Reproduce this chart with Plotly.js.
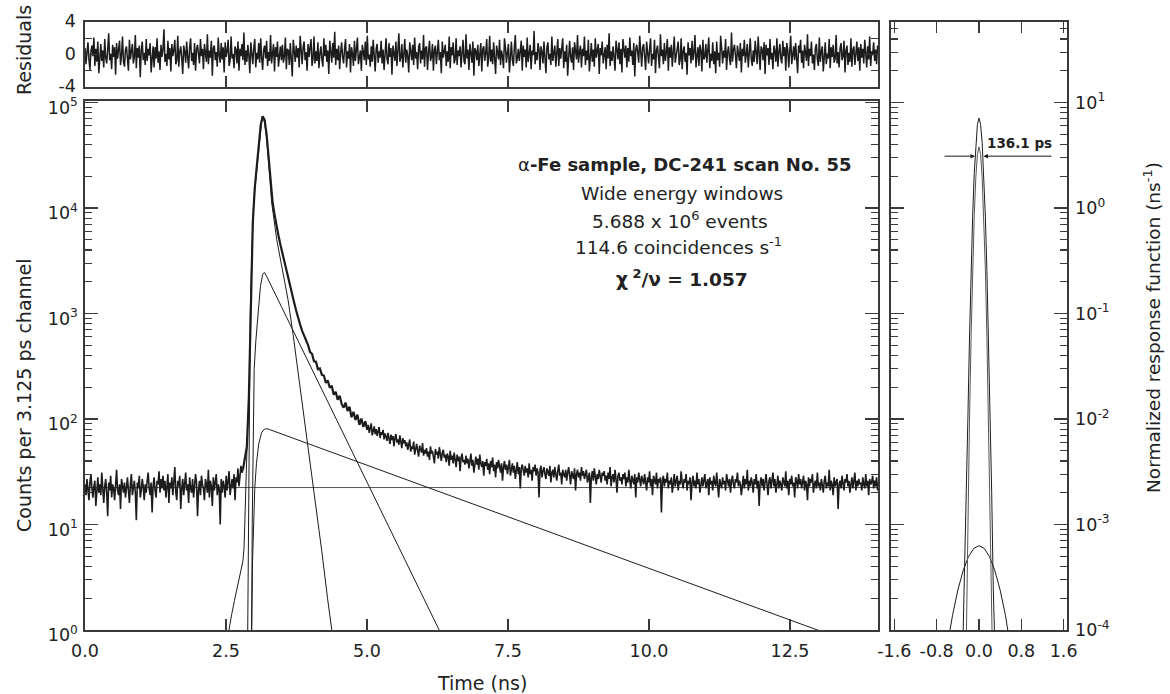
<!DOCTYPE html>
<html>
<head>
<meta charset="utf-8">
<script src="https://cdn.plot.ly/plotly-3.0.1.min.js"></script>
<style>
html, body { margin: 0; padding: 0; background: #ffffff; }
#chart { width: 1170px; height: 694px; }
</style>
</head>
<body>
<div id="chart"></div>
<script>
// ---------------- DATA ----------------
// Measured spectrum, counts per channel, in three stretches of channels
// 1) flat background before the peak: start 0 ns, channel step 0.0175 ns
const earlyStart = 0, earlyStep = 0.0175;
const countsEarly = [
24,19,27,21,17,25,30,22,18,23,26,15,21,28,20,24,19,31,22,16,
23,27,20,12,25,21,29,18,24,22,17,26,33,21,19,24,14,27,23,20,
25,18,22,28,21,16,24,30,19,23,26,20,11,25,22,29,18,21,27,23,
17,24,20,26,31,22,19,25,13,23,28,21,18,26,24,32,20,27,22,29,
21,26,18,23,30,16,25,22,28,19,24,35,20,17,26,23,29,14,22,27,
19,25,31,21,24,16,28,22,20,27,18,23,30,25,12,21,26,19,29,24,
22,17,27,24,20,33,18,26,23,15,28,21,25,30,19,24,22,10,27,20,
26,23,18,29,21,25,32,19,24,27,22,30,17,28,25,34,23,29,36,31,
33
];
// 2) rising edge, peak and fast decay: start 2.8 ns, channel step 0.035 ns
const peakStart = 2.8, peakStep = 0.035;
const countsPeak = [
33,45,55,160,1500,7200,15500,25000,40500,61000,74000,68500,49500,29500,16400,11500,8700,6750,5480,4480,
3710,3050,2560,2230,1800,1510,1255,1060,895,785,685,615,550,502,431,415,352,349,296,301,
262,258,221,232,198,207,170,181,152,166,139,128,143,119,131,104,117,98,110,88,
101,84,95,79
];
// 3) slow tail: start 5.005 ns, channel step 0.0175 ns
const tailStart = 5.005, tailStep = 0.0175;
const countsTail = [
79,88,74,83,91,70,78,85,72,80,69,77,84,66,75,71,79,64,73,68,
62,74,67,58,71,63,69,55,66,72,60,64,57,70,61,53,66,59,63,55,
60,51,57,64,49,55,52,61,46,54,58,50,44,56,52,48,59,45,51,47,
53,44,49,41,55,47,50,43,38,52,46,49,42,54,45,40,48,51,43,46,
39,47,44,36,50,41,45,38,48,42,35,46,40,44,32,43,47,39,41,37,
45,38,42,34,40,47,36,41,31,39,44,37,42,33,46,38,35,40,29,39,
36,42,33,38,30,40,35,43,32,37,28,39,34,41,36,31,38,26,35,40,
33,37,30,35,41,29,34,38,31,36,27,33,39,30,35,22,34,37,32,29,
36,31,34,28,38,30,33,26,35,32,37,29,34,31,18,33,36,28,32,35,
30,27,34,32,29,36,25,31,33,28,35,30,26,32,37,29,31,24,33,30,
28,33,26,31,35,29,24,32,30,27,34,21,30,33,28,31,26,35,29,32,
27,30,33,25,29,31,16,28,32,26,34,29,24,30,27,33,28,25,31,29,
32,26,29,24,31,27,35,23,28,30,25,33,27,20,29,31,26,28,24,30,
27,31,23,28,25,33,26,22,29,27,24,30,18,28,25,31,26,23,29,27,
24,30,26,21,28,25,32,23,27,19,29,26,24,31,22,27,25,28,13,26,
29,23,27,25,31,22,26,24,28,20,27,30,23,25,29,21,26,24,32,25,
22,27,25,30,21,26,24,28,17,25,29,23,26,22,31,24,27,20,25,28,
23,26,30,22,25,27,19,28,24,26,21,29,25,23,31,24,18,27,25,22,
28,24,26,21,30,25,23,27,20,26,29,24,22,27,25,31,23,26,24,19,
25,29,22,27,24,33,21,26,23,28,25,20,27,24,30,22,26,15,25,28,
23,27,21,25,30,24,19,26,28,22,25,31,23,27,20,24,29,22,26,24,
21,28,25,23,32,22,26,19,27,24,29,23,25,18,28,26,22,30,24,27,
22,25,29,21,26,24,17,28,23,27,25,30,20,24,26,22,31,23,25,21,
27,24,20,26,29,22,25,23,33,21,26,24,19,28,23,25,27,14,24,26,
22,29,24,21,27,25,30,23,26,20,24,28,22,25,31,21,26,23,27,24,
25,21,28,24,22,30,23,26,19,27,24,25,29,22,26,23,28,21,25
];

// Weighted residuals of the fit: start 0 ns, channel step 0.0175 ns
const residStart = 0, residStep = 0.0175;
const residuals = [
0.8,-1.2,0.3,1.5,-0.6,-1.9,0.4,1.1,-0.2,2.1,-1.4,0.7,-0.9,1.6,-2.3,0.2,1.3,-0.8,0.5,-1.6,
1.9,-0.4,-1.1,0.6,2.6,-0.7,0.1,-1.8,1.2,-0.3,0.9,-2.5,1.4,-0.5,0.3,1.7,-1.3,-0.1,2.2,-0.9,
-1.5,0.6,1.0,-0.2,-2.0,1.8,-0.6,0.4,1.3,-1.1,-0.3,2.4,-1.7,0.8,-0.4,1.1,-2.8,0.5,1.6,-0.7,
0.2,-1.3,1.9,-0.8,0.7,-0.1,1.4,-2.2,0.3,1.0,-1.6,0.9,-0.5,2.0,-1.0,0.4,-1.9,1.2,-0.3,0.6,
3.1,-0.9,0.1,-1.4,1.7,-0.6,0.8,-2.1,1.3,-0.2,0.5,1.8,-1.2,-0.7,2.3,-1.5,0.3,1.0,-0.4,-2.4,
1.1,0.4,-1.0,1.6,-0.3,-1.7,0.9,2.0,-0.8,0.2,-1.3,1.4,-2.0,0.6,1.2,-0.5,-1.1,1.9,-0.2,0.7,
-1.8,1.3,0.0,-0.9,2.5,-1.2,0.5,-0.4,1.7,-2.6,0.8,1.1,-0.7,0.3,-1.5,2.1,-0.1,-1.0,1.4,-0.6,
0.9,-2.2,1.5,-0.3,0.4,1.8,-1.4,-0.8,2.2,-0.5,0.1,-1.7,1.0,0.6,-1.1,1.6,-2.0,0.7,-0.2,1.3,
-0.7,2.7,-1.3,0.5,-0.9,1.2,-0.1,-2.3,1.5,0.3,-1.2,0.8,1.9,-1.6,0.2,-0.6,1.4,-1.0,2.0,-0.4,
-1.9,0.6,1.1,-0.5,1.7,-1.4,0.3,-0.8,2.4,-1.1,0.0,1.3,-2.1,0.9,-0.3,1.6,-1.5,0.4,1.0,-0.7,
1.2,-1.0,-0.2,2.1,-1.8,0.7,0.5,-1.3,1.4,-0.6,-2.7,1.8,0.2,-0.9,1.1,-0.4,0.8,-1.6,2.3,-0.1,
-1.2,0.9,1.6,-0.7,0.3,-2.0,1.3,-0.3,0.6,1.9,-1.4,-0.5,2.2,-1.1,0.4,-0.8,1.5,-1.7,0.1,1.0,
-0.6,-1.5,2.0,-0.2,1.2,-0.9,0.5,-2.4,1.7,0.3,-1.0,1.4,-0.4,2.8,-1.3,0.7,-0.7,1.1,-1.8,0.2,
1.5,-0.3,-1.1,0.8,1.9,-1.6,0.4,-0.5,1.3,-2.2,0.9,0.1,-1.4,1.7,-0.8,0.6,2.1,-1.2,-0.2,0.5,
-2.0,1.2,0.3,-0.7,1.6,-1.3,2.3,-0.6,0.0,-1.5,1.0,-0.9,1.8,-0.2,-2.1,0.7,1.3,-1.0,0.4,-0.4,
1.7,-1.1,0.6,-1.9,0.9,2.0,-0.5,-1.2,1.4,-0.3,0.8,-2.5,1.1,0.2,-0.8,1.6,-1.4,0.5,2.6,-0.9,
-0.4,1.3,-1.6,0.1,1.9,-1.0,0.6,-0.2,-2.2,1.5,0.4,-0.7,1.2,-1.3,2.1,-0.5,0.3,-1.8,0.9,1.4,
-1.1,0.5,-0.6,2.4,-1.5,0.8,1.0,-1.9,0.2,1.7,-0.8,-0.3,1.3,-2.0,0.6,1.1,-1.2,0.0,1.8,-0.7,
0.3,-2.3,1.6,-0.4,0.7,1.2,-1.4,0.4,-0.9,2.2,-1.7,0.9,-0.1,1.5,-1.1,-0.6,2.0,-1.3,0.5,-0.2,
1.0,-1.6,0.2,1.8,-0.8,-1.2,2.5,-0.5,0.6,-1.9,1.3,0.1,-1.0,1.6,-2.6,0.8,0.4,-0.7,1.2,-1.4,
-0.3,1.4,-2.1,0.7,1.0,-0.8,0.2,1.9,-1.5,-0.4,2.3,-0.9,0.6,-1.2,1.5,-0.1,-2.4,1.1,0.4,-0.6,
1.8,-1.3,0.5,-0.2,-1.7,2.0,0.8,-1.0,0.3,1.3,-2.2,0.0,1.6,-0.7,-1.4,0.9,2.4,-1.1,-0.5,0.7,
-0.8,0.4,1.7,-2.0,1.1,-0.3,0.6,-1.6,2.1,-0.9,0.2,1.2,-1.8,0.5,-0.1,2.9,-1.2,0.3,-0.7,1.4,
0.6,-1.9,1.0,0.3,-1.1,1.6,-0.4,-2.3,0.9,1.5,-0.6,0.1,-1.3,2.2,-0.8,0.7,1.1,-1.5,-0.2,1.9,
-1.4,0.8,-0.5,1.3,2.0,-1.7,0.4,-0.9,1.2,-2.6,0.6,1.7,-0.3,-1.0,0.9,-1.9,1.5,0.2,-0.6,2.4,
-1.0,0.3,1.1,-1.6,0.7,-0.2,2.2,-1.3,0.5,-0.7,1.8,-2.1,0.0,1.4,-0.9,0.6,-1.5,2.0,-0.4,0.9,
1.3,-2.4,0.8,-0.1,1.6,-1.1,0.2,0.9,-1.8,1.2,-0.5,2.6,-1.4,0.4,-0.8,1.0,-0.3,-2.0,1.7,0.1,
-0.6,1.5,-1.2,0.7,-2.2,1.9,0.3,-0.4,1.1,-1.6,0.8,-0.9,2.1,-0.2,0.5,-1.3,1.4,-2.7,0.6,1.2,
0.2,-1.0,2.3,-0.7,-1.5,0.9,1.3,-0.3,-1.9,1.6,0.4,-1.1,0.7,2.0,-1.4,0.1,-0.6,1.8,-2.3,0.5,
1.1,-0.5,-1.7,2.5,-0.2,0.6,-1.2,1.4,-0.8,0.3,1.9,-2.0,0.9,-0.4,1.2,-1.5,0.0,2.2,-1.0,-0.3,
0.7,1.6,-1.3,-0.6,2.0,-1.8,0.4,1.0,-0.9,0.2,-2.5,1.5,-0.1,0.8,-1.1,1.7,-0.7,0.3,2.4,-1.6,
-0.2,0.9,-1.4,1.2,0.5,-2.1,1.8,-0.6,-0.3,1.3,-1.0,0.6,2.1,-1.7,0.1,-0.8,1.5,-1.2,0.4,-2.3,
1.6,-0.7,0.2,-1.5,2.3,0.8,-1.1,0.5,-0.4,1.9,-1.9,0.3,1.0,-0.6,-1.3,2.7,-0.9,0.6,1.2,-0.1,
-1.7,1.1,0.4,-0.8,1.4,-2.2,0.7,-0.2,1.8,-1.0,0.0,1.3,-1.6,0.9,2.0,-0.5,-1.4,0.5,-0.9,1.7,
0.3,-1.2,2.2,-0.4,-1.9,1.0,0.6,-0.7,1.5,-2.4,1.2,-0.1,0.8,-1.3,1.9,-0.6,0.2,-1.8,1.1,0.4,
-0.9,2.0,-1.5,0.3,1.3,-0.5,-1.1,1.7,-0.2,0.9,-2.0,1.4,0.6,-1.6,0.4,2.3,-1.2,-0.3,1.0,-0.7,
1.4,-0.4,-2.3,1.1,0.2,1.8,-1.0,0.5,-1.7,1.2,-0.3,-0.8,2.5,-1.4,0.7,-0.2,1.6,-1.1,0.0,-1.9,
0.8,1.3,-0.6,-1.4,2.1,-0.9,0.4,1.0,-2.1,0.6,1.5,-1.2,0.1,-0.5,1.9,-1.7,0.9,-0.3,1.2,-1.0,
-0.5,2.4,-1.1,0.3,-1.6,0.8,1.4,-0.7,-0.2,1.7,-2.2,0.5,1.1,-1.3,0.2,-0.9,2.0,-1.5,0.6,1.0,
-1.3,0.1,1.6,-0.8,0.9,-2.0,1.3,-0.4,0.7,-1.1,1.8,0.2,-1.6,1.0,-0.6,2.2,-1.4,0.4,-0.1,1.5,
-0.8,0.6,-1.2,1.1,0.3
];

// Fitted lifetime components (time in ns, counts per channel)
const comp1Time   = [2.885, 2.895, 2.905, 2.915, 2.93, 2.96, 2.99, 3.05, 3.10, 3.14, 3.18, 3.22, 3.26, 3.31, 3.40, 3.50, 3.60, 3.69, 3.80, 3.90, 4.00, 4.10, 4.20, 4.30, 4.37, 4.40];
const comp1Counts = [1.0, 4, 40, 250, 1000, 4000, 11500, 24500, 47000, 72000, 66000, 46000, 25000, 11200, 5000, 2500, 1350, 630, 230, 95, 38, 15, 5.5, 2.0, 1.0, 0.8];

const comp2Time   = [2.95, 2.955, 2.965, 2.98, 3.00, 3.03, 3.07, 3.11, 3.15, 3.18, 3.22, 6.30];
const comp2Counts = [0.8, 1.0, 10, 80, 300, 560, 1100, 1800, 2350, 2450, 2250, 0.95];

const comp3Time   = [2.95, 2.955, 2.97, 2.99, 3.01, 3.04, 3.08, 3.13, 3.18, 3.22, 3.27, 13.10];
const comp3Counts = [0.8, 1.0, 4.3, 12, 22, 38, 58, 74, 80, 81, 79.5, 0.95];

const edgeTime    = [2.53, 2.55, 2.60, 2.65, 2.70, 2.75, 2.80, 2.82, 2.84, 2.86, 2.875, 2.885];
const edgeCounts  = [0.85, 1.0, 1.4, 1.9, 2.6, 3.4, 4.5, 6, 12, 30, 55, 90];

const bgTime   = [0, 14.06];
const bgCounts = [22.4, 22.4];

// Normalized response function (ns^-1)
const respTime   = [-0.33, -0.30, -0.27, -0.24, -0.21, -0.18, -0.15, -0.12, -0.09, -0.06, -0.03, 0, 0.03, 0.06, 0.09, 0.12, 0.15, 0.18, 0.21, 0.24, 0.27, 0.30, 0.33];
const respTotal  = [2e-5, 9e-5, 2.5e-4, 2.0e-3, 1.01e-2, 5.75e-2, 0.25, 0.835, 2.13, 4.16, 6.21, 7.1, 6.21, 4.16, 2.13, 0.835, 0.25, 5.75e-2, 1.01e-2, 2.0e-3, 2.5e-4, 9e-5, 2e-5];
const respMainTime = [-0.25, -0.24, -0.21, -0.18, -0.15, -0.12, -0.09, -0.06, -0.03, 0, 0.03, 0.06, 0.09, 0.12, 0.15, 0.18, 0.21, 0.24, 0.26];
const respMain     = [3.6e-5, 9.0e-5, 1.09e-3, 9.5e-3, 5.93e-2, 0.265, 0.85, 1.95, 3.22, 3.8, 3.22, 1.95, 0.85, 0.265, 5.93e-2, 9.5e-3, 1.09e-3, 1.4e-4, 4e-5];
const respWideTime = [-0.7, -0.6, -0.5, -0.4, -0.3, -0.2, -0.1, 0, 0.1, 0.2, 0.3, 0.4, 0.5, 0.6, 0.7];
const respWide     = [3.2e-5, 7.1e-5, 1.38e-4, 2.39e-4, 3.65e-4, 4.94e-4, 5.93e-4, 6.3e-4, 5.93e-4, 4.94e-4, 3.65e-4, 2.39e-4, 1.38e-4, 7.1e-5, 3.2e-5];
const fwhmLevel = 3.1;       // ns^-1, level of the FWHM marker
const fwhmLeftTip = -0.075;  // ns
const fwhmRightTip = 0.085;  // ns
const fwhmLabel = '136.1 ps';

// Axis ticks
const timeTickVals = [0, 2.5, 5, 7.5, 10, 12.5];
const timeTickText = ['0.0', '2.5', '5.0', '7.5', '10.0', '12.5'];
const countTickVals = [1, 10, 100, 1000, 10000, 100000];
const countTickText = ['10<sup>0</sup>', '10<sup>1</sup>', '10<sup>2</sup>', '10<sup>3</sup>', '10<sup>4</sup>', '10<sup>5</sup>'];
const residTickVals = [-4, 0, 4];
const residTickText = ['-4', '0', '4'];
const respXTickVals = [-1.6, -0.8, 0, 0.8, 1.6];
const respXTickText = ['-1.6', '-0.8', '0.0', '0.8', '1.6'];
const respYTickVals = [1e-4, 1e-3, 1e-2, 1e-1, 1, 10];
const respYTickText = ['10<sup>-4</sup>', '10<sup>-3</sup>', '10<sup>-2</sup>', '10<sup>-1</sup>', '10<sup>0</sup>', '10<sup>1</sup>'];

// ---------------- LAYOUT HELPERS ----------------
const W = 1170, H = 694;
const px = v => v / W;
const py = v => 1 - v / H;
function logMinor(lo, hi) {
  const v = [];
  for (let e = lo; e < hi; e++) for (let d = 2; d <= 9; d++) v.push(d * Math.pow(10, e));
  return v;
}
const FONT = 'DejaVu Sans, Liberation Sans, Arial, sans-serif';
const AX = '#3a3a3a';
const INK = '#1c1c1c';

const baseAxis = {
  showline: true, linecolor: AX, linewidth: 1.6, mirror: 'ticks',
  ticks: 'inside', tickcolor: AX, tickwidth: 1.3,
  showgrid: false, zeroline: false,
  tickfont: { family: FONT, size: 17.5, color: '#222' },
  tickmode: 'array'
};

const line = (w, c) => ({ color: c || INK, width: w });
const traces = [
  { x: bgTime, y: bgCounts, mode: 'lines', line: line(1, '#555'), xaxis: 'x', yaxis: 'y', hoverinfo: 'skip' },
  { x: edgeTime, y: edgeCounts, mode: 'lines', line: line(1), xaxis: 'x', yaxis: 'y', hoverinfo: 'skip' },
  { x: comp3Time, y: comp3Counts, mode: 'lines', line: line(1), xaxis: 'x', yaxis: 'y', hoverinfo: 'skip' },
  { x: comp2Time, y: comp2Counts, mode: 'lines', line: line(1), xaxis: 'x', yaxis: 'y', hoverinfo: 'skip' },
  { x: comp1Time, y: comp1Counts, mode: 'lines', line: line(1), xaxis: 'x', yaxis: 'y', hoverinfo: 'skip' },
  { x0: earlyStart, dx: earlyStep, y: countsEarly, mode: 'lines', line: line(1.6), xaxis: 'x', yaxis: 'y', hoverinfo: 'skip' },
  { x0: peakStart, dx: peakStep, y: countsPeak, mode: 'lines', line: line(2.2), xaxis: 'x', yaxis: 'y', hoverinfo: 'skip' },
  { x0: tailStart, dx: tailStep, y: countsTail, mode: 'lines', line: line(1.6), xaxis: 'x', yaxis: 'y', hoverinfo: 'skip' },
  { x0: residStart, dx: residStep, y: residuals, mode: 'lines', line: line(1.5), xaxis: 'x2', yaxis: 'y2', hoverinfo: 'skip' },
  { x: respWideTime, y: respWide, mode: 'lines', line: line(1), xaxis: 'x3', yaxis: 'y3', hoverinfo: 'skip' },
  { x: respMainTime, y: respMain, mode: 'lines', line: line(1, '#555'), xaxis: 'x3', yaxis: 'y3', hoverinfo: 'skip' },
  { x: respTime, y: respTotal, mode: 'lines', line: line(1), xaxis: 'x3', yaxis: 'y3', hoverinfo: 'skip' }
];

const mainX = [px(85), px(878)];
const annFont = s => ({ family: FONT, size: s, color: '#222' });

const layout = {
  width: W, height: H,
  margin: { l: 0, r: 0, t: 0, b: 0, pad: 0 },
  paper_bgcolor: '#ffffff', plot_bgcolor: '#ffffff',
  showlegend: false,
  xaxis: Object.assign({}, baseAxis, {
    domain: mainX, anchor: 'y', range: [0, 14.06],
    tickvals: timeTickVals, ticktext: timeTickText, ticklen: 11, ticklabelstandoff: 4
  }),
  yaxis: Object.assign({}, baseAxis, {
    domain: [py(630), py(101)], anchor: 'x', type: 'log', range: [0, 5.014],
    tickvals: countTickVals, ticktext: countTickText, ticklen: 13, ticklabelstandoff: 2, ticklabelshift: 5,
    minor: { ticks: 'inside', ticklen: 7, tickcolor: AX, tickwidth: 1.1, tickmode: 'array', tickvals: logMinor(0, 5), showgrid: false }
  }),
  xaxis2: Object.assign({}, baseAxis, {
    domain: mainX, anchor: 'y2', range: [0, 14.06],
    tickvals: timeTickVals, showticklabels: false, ticklen: 11
  }),
  yaxis2: Object.assign({}, baseAxis, {
    domain: [py(87), py(22)], anchor: 'x2', range: [-4, 4],
    tickvals: residTickVals, ticktext: residTickText, ticklen: 12, ticklabelstandoff: 4, ticklabelshift: -1,
    minor: { ticks: 'inside', ticklen: 7, tickcolor: AX, tickwidth: 1.1, tickmode: 'array', tickvals: [-2, 2], showgrid: false }
  }),
  xaxis3: Object.assign({}, baseAxis, {
    domain: [px(891), px(1067)], anchor: 'y3', range: [-1.664, 1.664],
    tickvals: respXTickVals, ticktext: respXTickText, ticklen: 11, ticklabelstandoff: 4
  }),
  yaxis3: Object.assign({}, baseAxis, {
    domain: [py(630), py(22)], anchor: 'x3', side: 'right', type: 'log', range: [-4, 1.763],
    tickvals: respYTickVals, ticktext: respYTickText, ticklen: 13, ticklabelstandoff: 3,
    minor: { ticks: 'inside', ticklen: 7, tickcolor: AX, tickwidth: 1.1, tickmode: 'array', tickvals: logMinor(-4, 2), showgrid: false }
  }),
  annotations: [
    { xref: 'paper', yref: 'paper', x: px(684), y: py(164), text: 'α<b>-Fe sample, DC-241 scan No. 55</b>', showarrow: false, font: annFont(18), xanchor: 'center', yanchor: 'middle' },
    { xref: 'paper', yref: 'paper', x: px(682), y: py(193), text: 'Wide energy windows', showarrow: false, font: annFont(18.5), xanchor: 'center', yanchor: 'middle' },
    { xref: 'paper', yref: 'paper', x: px(680), y: py(220), text: '5.688 x 10<sup>6</sup> events', showarrow: false, font: annFont(18.5), xanchor: 'center', yanchor: 'middle' },
    { xref: 'paper', yref: 'paper', x: px(678), y: py(246), text: '114.6 coincidences s<sup>-1</sup>', showarrow: false, font: annFont(18.5), xanchor: 'center', yanchor: 'middle' },
    { xref: 'paper', yref: 'paper', x: px(682), y: py(278), text: '<b>χ<sup> 2</sup>/ν = 1.057</b>', showarrow: false, font: annFont(18.5), xanchor: 'center', yanchor: 'middle' },
    { xref: 'paper', yref: 'paper', x: px(482), y: py(683), text: 'Time (ns)', showarrow: false, font: annFont(19), xanchor: 'center', yanchor: 'middle' },
    { xref: 'paper', yref: 'paper', x: px(24), y: py(50), text: 'Residuals', textangle: -90, showarrow: false, font: annFont(19), xanchor: 'center', yanchor: 'middle' },
    { xref: 'paper', yref: 'paper', x: px(24), y: py(395), text: 'Counts per 3.125 ps channel', textangle: -90, showarrow: false, font: annFont(19), xanchor: 'center', yanchor: 'middle' },
    { xref: 'paper', yref: 'paper', x: px(1152), y: py(328), text: 'Normalized response function (ns<sup>-1</sup>)', textangle: -90, showarrow: false, font: annFont(18.5), xanchor: 'center', yanchor: 'middle' },
    { xref: 'x3', yref: 'y3', axref: 'x3', ayref: 'y3', x: fwhmLeftTip, y: Math.log10(fwhmLevel), ax: -0.68, ay: Math.log10(fwhmLevel), text: '', showarrow: true, arrowhead: 2, arrowsize: 0.9, arrowwidth: 1, arrowcolor: INK },
    { xref: 'x3', yref: 'y3', axref: 'x3', ayref: 'y3', x: fwhmRightTip, y: Math.log10(fwhmLevel), ax: 1.40, ay: Math.log10(fwhmLevel), text: '', showarrow: true, arrowhead: 2, arrowsize: 0.9, arrowwidth: 1, arrowcolor: INK },
    { xref: 'x3', yref: 'y3', x: 0.76, y: Math.log10(4.1), text: '<b>' + fwhmLabel + '</b>', showarrow: false, font: annFont(13.5), xanchor: 'center', yanchor: 'middle' }
  ]
};

Plotly.newPlot('chart', traces, layout, { displayModeBar: false, staticPlot: true });
</script>
</body>
</html>
